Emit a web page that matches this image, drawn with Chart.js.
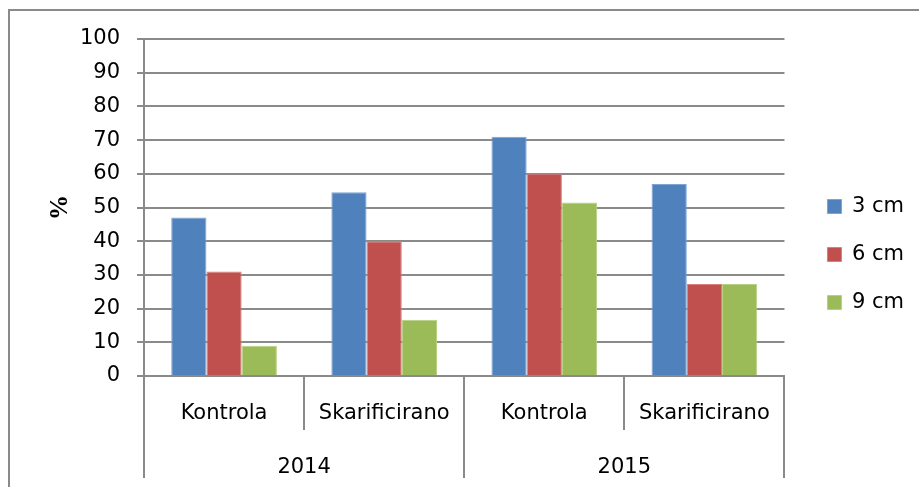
<!DOCTYPE html>
<html lang="hr">
<head>
<meta charset="UTF-8" />
<title>Klijanje sjemena</title>
<style>
  html, body { margin: 0; padding: 0; background: #fff; }
  #wrap { width: 919px; height: 487px; }
</style>
<script src="https://cdn.jsdelivr.net/npm/chart.js"></script>
</head>
<body>
<div id="wrap"><canvas id="chart"></canvas></div>
<script>
// categories (inner level) and groups (outer level)
const treatments = ["Kontrola", "Skarificirano", "Kontrola", "Skarificirano"];
const years = ["2014", "2015"];

// series values, %
const seriesNames = ["3 cm", "6 cm", "9 cm"];
const depth3cm = [47, 54.5, 71, 57];
const depth6cm = [31, 40, 60, 27.3];
const depth9cm = [9, 16.7, 51.5, 27.3];

// y axis
const yMin = 0;
const yMax = 100;
const yStep = 10;

const gridColor = "#8a8a8a";

Chart.defaults.font.family = "'DejaVu Sans', sans-serif";
Chart.defaults.font.size = 21;
Chart.defaults.color = "#000";

// outer frame + the two-level category separators
const frameAndGroups = {
    id: "frameAndGroups",
    afterUpdate(chart) {
        // Excel puts the legend a bit further from the plot
        chart.legend.left += 16;
        chart.legend.right += 16;
        chart.legend.top -= 4;
        chart.legend.bottom -= 4;
    },
    afterDraw(chart) {
        const ctx = chart.ctx;
        const x = chart.scales.x;
        const x2 = chart.scales.x2;
        const top = chart.chartArea.bottom;
        const step = x.width / treatments.length;
        const perYear = treatments.length / years.length;
        ctx.save();
        ctx.strokeStyle = gridColor;
        ctx.lineWidth = 2;
        for (let i = 0; i <= treatments.length; i++) {
            const px = Math.round(x.left + i * step);
            const end = i % perYear === 0 ? x2.bottom : x.bottom;
            ctx.beginPath();
            ctx.moveTo(px, top);
            ctx.lineTo(px, end);
            ctx.stroke();
        }
        ctx.strokeRect(9, 10, 960, 520);
        ctx.restore();
    }
};

new Chart(document.getElementById("chart").getContext("2d"), {
    type: "bar",
    data: {
        labels: treatments,
        datasets: [
            {
                label: seriesNames[0],
                data: depth3cm,
                backgroundColor: "#4f81bd",
                borderColor: "#7fa3d3",
                borderWidth: 1,
            },
            {
                label: seriesNames[1],
                data: depth6cm,
                backgroundColor: "#c0504d",
                borderColor: "#d8807d",
                borderWidth: 1,
            },
            {
                label: seriesNames[2],
                data: depth9cm,
                backgroundColor: "#9bbb59",
                borderColor: "#b8d081",
                borderWidth: 1,
            },
        ],
    },
    options: {
        responsive: true,
        maintainAspectRatio: false,
        animation: false,
        categoryPercentage: 0.66,
        barPercentage: 1,
        layout: {
            padding: { top: 39, left: 9, right: 21, bottom: 9 },
        },
        plugins: {
            legend: {
                position: "right",
                labels: {
                    boxWidth: 14,
                    boxHeight: 14,
                    padding: 27,
                    font: { size: 21 },
                },
            },
            tooltip: { enabled: false },
        },
        scales: {
            x: {
                position: "bottom",
                weight: 0,
                grid: { display: false },
                border: { display: true, color: gridColor, width: 2 },
                ticks: { padding: 17, maxRotation: 0, font: { size: 21 } },
                afterFit: (scale) => { scale.height = 54; },
            },
            x2: {
                type: "category",
                labels: years,
                position: "bottom",
                weight: 1,
                grid: { display: false },
                border: { display: false },
                ticks: { padding: 17, maxRotation: 0, font: { size: 21 } },
                afterFit: (scale) => { scale.height = 48; },
            },
            y: {
                min: yMin,
                max: yMax,
                ticks: { stepSize: yStep, padding: 17, font: { size: 21 } },
                grid: { color: gridColor, lineWidth: 2, tickLength: 7 },
                border: { color: gridColor, width: 2 },
                title: {
                    display: true,
                    text: "%",
                    font: { family: "'Liberation Serif', serif", weight: "bold", size: 25 },
                    padding: { top: 37, bottom: 0 },
                },
                afterFit: (scale) => { scale.width = 135; },
            },
        },
    },
    plugins: [frameAndGroups],
});
</script>
</body>
</html>
